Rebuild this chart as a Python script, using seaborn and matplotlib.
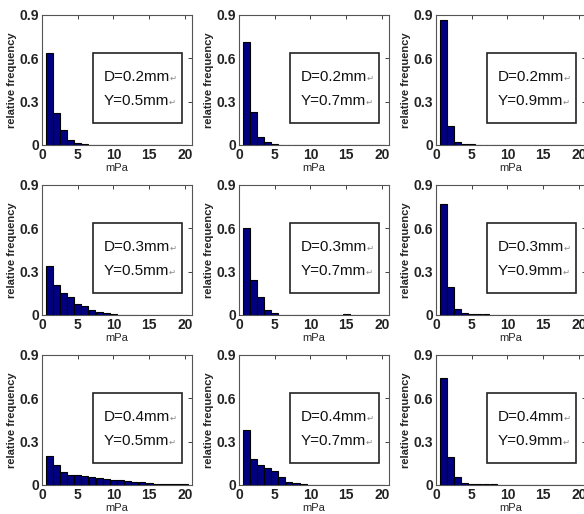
import numpy as np
import pandas as pd
import seaborn as sns
import matplotlib
matplotlib.use('Agg')
import matplotlib.pyplot as plt

# bin centres (mPa)
bins = list(range(1, 21))

# relative frequency per bin
freq_d02_y05 = [0.64, 0.224, 0.104, 0.037, 0.016, 0.005, 0.003, 0.002, 0.002, 0.002,
                0.002, 0.002, 0.002, 0.002, 0.002, 0.002, 0.002, 0.002, 0.002, 0.002]
freq_d02_y07 = [0.713, 0.231, 0.058, 0.018, 0.008, 0.003, 0.003, 0.003, 0.003, 0.0,
                0, 0, 0, 0, 0, 0, 0, 0, 0, 0]
freq_d02_y09 = [0.863, 0.132, 0.021, 0.008, 0.004, 0.003, 0.003, 0, 0, 0,
                0, 0, 0, 0, 0, 0, 0, 0, 0, 0]
freq_d03_y05 = [0.34, 0.207, 0.152, 0.124, 0.078, 0.06, 0.037, 0.021, 0.011, 0.004,
                0.003, 0.003, 0.003, 0.003, 0.003, 0.003, 0.003, 0.003, 0.003, 0.003]
freq_d03_y07 = [0.599, 0.239, 0.124, 0.032, 0.014, 0.003, 0.003, 0.003, 0.003, 0.003,
                0.003, 0, 0, 0, 0.004, 0, 0, 0, 0, 0]
freq_d03_y09 = [0.768, 0.193, 0.042, 0.014, 0.005, 0.004, 0.004, 0, 0, 0,
                0, 0, 0, 0, 0, 0, 0, 0, 0, 0]
freq_d04_y05 = [0.203, 0.141, 0.09, 0.072, 0.067, 0.062, 0.058, 0.046, 0.042, 0.037,
                0.035, 0.025, 0.023, 0.018, 0.014, 0.009, 0.007, 0.005, 0.005, 0.004]
freq_d04_y07 = [0.379, 0.18, 0.136, 0.115, 0.095, 0.053, 0.023, 0.016, 0.009, 0.003,
                0.002, 0.002, 0.002, 0.002, 0.002, 0.002, 0.002, 0.002, 0.002, 0.002]
freq_d04_y09 = [0.738, 0.197, 0.058, 0.016, 0.004, 0.004, 0.004, 0.004, 0, 0,
                0.003, 0, 0, 0, 0, 0, 0, 0, 0, 0]

d_labels = ['D=0.2mm', 'D=0.3mm', 'D=0.4mm']
y_labels = ['Y=0.5mm', 'Y=0.7mm', 'Y=0.9mm']
freqs = [[freq_d02_y05, freq_d02_y07, freq_d02_y09],
         [freq_d03_y05, freq_d03_y07, freq_d03_y09],
         [freq_d04_y05, freq_d04_y07, freq_d04_y09]]

sns.set_style('white')
plt.rcParams['font.family'] = ['Liberation Sans', 'DejaVu Sans']

W, H = 584, 514
fig = plt.figure(figsize=(W / 100, H / 100), dpi=100)
fig.patch.set_facecolor('white')

lefts = [42, 239, 436]
tops = [15, 185, 355]
aw, ah = 150, 130

for r in range(3):
    for c in range(3):
        ax = fig.add_axes([lefts[c] / W, (H - tops[r] - ah) / H, aw / W, ah / H])
        df = pd.DataFrame({'mPa': bins, 'freq': freqs[r][c]})
        sns.barplot(data=df, x='mPa', y='freq', native_scale=True, color='#000080',
                    saturation=1, width=0.95, edgecolor='black', linewidth=0.8, ax=ax)
        ax.set_xlim(0, 21)
        ax.set_ylim(0, 0.9)
        ax.set_xticks([0, 5, 10, 15, 20])
        ax.set_xticklabels(['0', '5', '10', '15', '20'])
        ax.set_yticks([0, 0.3, 0.6, 0.9])
        ax.set_yticklabels(['0', '0.3', '0.6', '0.9'])
        ax.tick_params(direction='in', length=3, width=0.6, top=True, right=True,
                       labelsize=10, pad=2, colors='#222222')
        for lab in ax.get_xticklabels() + ax.get_yticklabels():
            lab.set_fontweight('bold')
        for sp in ax.spines.values():
            sp.set_color('#555555')
            sp.set_linewidth(0.8)
        ax.set_xlabel('mPa', fontsize=8, labelpad=1)
        ax.set_ylabel('relative frequency', fontsize=8, fontweight='bold', labelpad=2)

        # annotation box
        box = plt.Rectangle((0.34, 0.17), 0.59, 0.54, transform=ax.transAxes,
                            fill=False, edgecolor='#222222', linewidth=1.2, zorder=5)
        ax.add_patch(box)
        for txt, yy in [(d_labels[r], 0.525), (y_labels[c], 0.34)]:
            t = ax.text(0.41, yy, txt, transform=ax.transAxes, fontsize=11,
                        va='center', ha='left', color='#111111', zorder=6)
            ax.annotate('\u21b5', xy=(1, 0.05), xycoords=t, fontsize=6,
                        color='#888888', va='bottom', ha='left',
                        family=['DejaVu Sans'])

fig.savefig('out.png', dpi=100, facecolor='white')
